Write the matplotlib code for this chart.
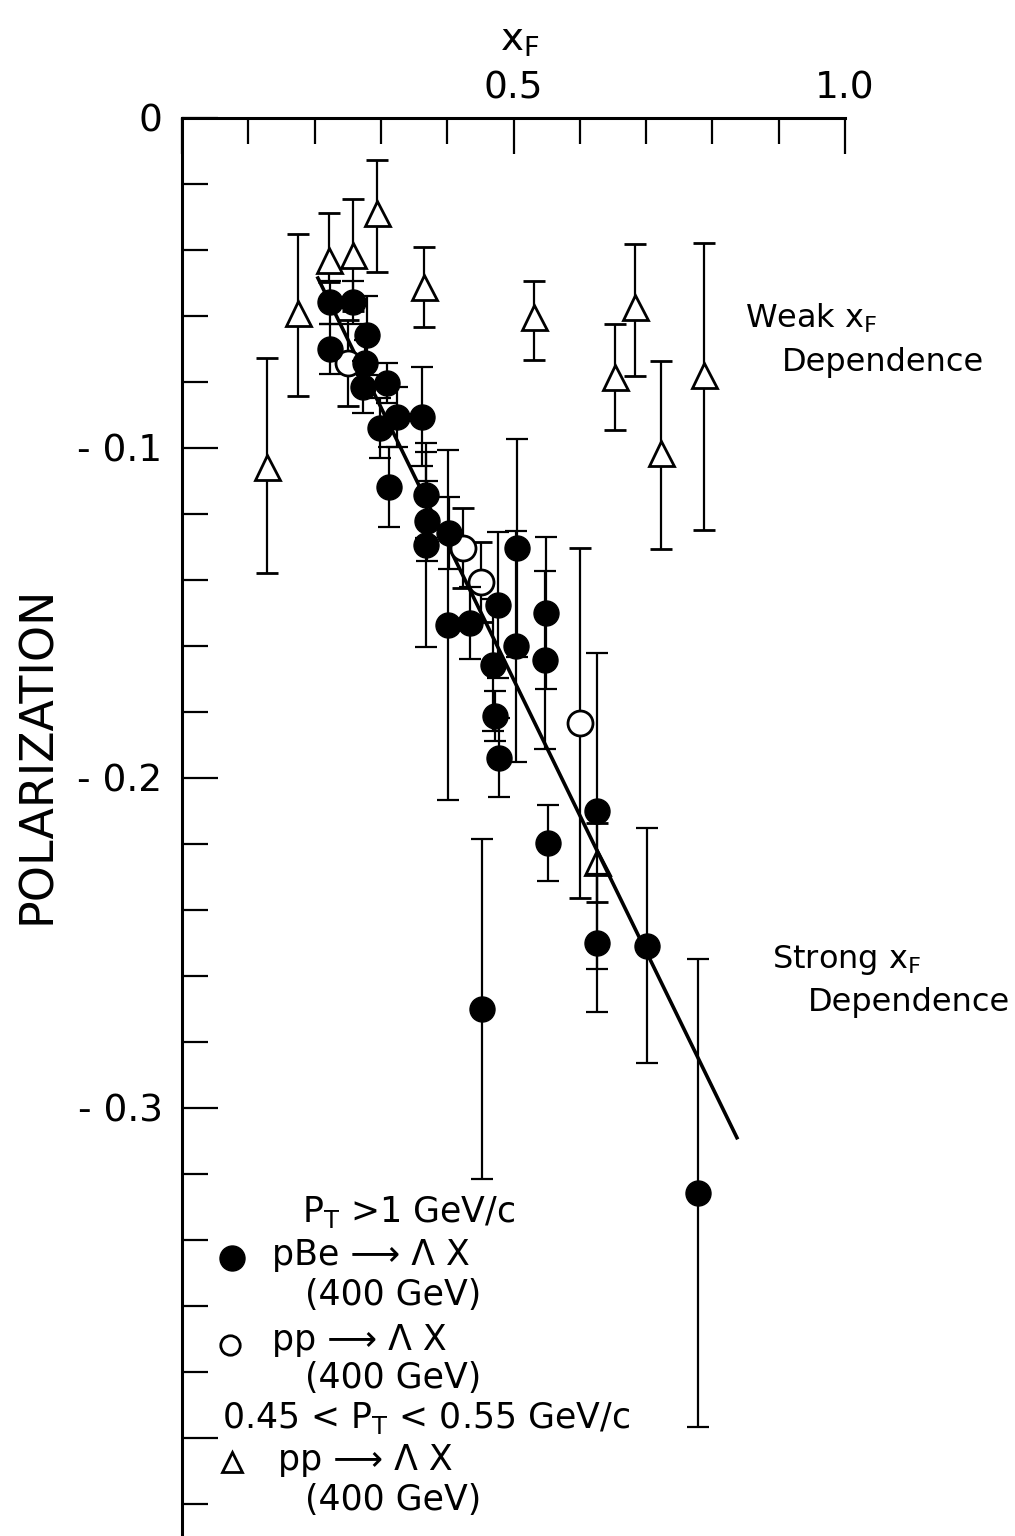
import matplotlib
matplotlib.use("Agg")
import matplotlib.pyplot as plt
import numpy as np

plt.rcParams['font.family'] = ['DejaVu Sans']
plt.rcParams['mathtext.default'] = 'regular'

W, H = 1015, 1536

# pBe -> Lambda X, pT > 1 GeV/c (filled circles)
pbe_x = [0.223, 0.258, 0.279, 0.223, 0.276, 0.273, 0.309, 0.324, 0.299, 0.362,
         0.312, 0.368, 0.370, 0.368, 0.403, 0.401, 0.434, 0.505, 0.477, 0.549,
         0.504, 0.547, 0.469, 0.472, 0.478, 0.552, 0.626, 0.626, 0.452, 0.701, 0.778]
pbe_y = [-0.0558, -0.0558, -0.0658, -0.0700, -0.0742, -0.0815, -0.0803, -0.0906, -0.0939, -0.0906,
         -0.1118, -0.1142, -0.1221, -0.1294, -0.1258, -0.1536, -0.1530, -0.1303, -0.1476, -0.1500,
         -0.1600, -0.1642, -0.1658, -0.1812, -0.1939, -0.2197, -0.2100, -0.2500, -0.2700, -0.2509, -0.3258]
pbe_err = [0.0065, 0.0065, 0.012, 0.0076, 0.007, 0.008, 0.006, 0.009, 0.009, 0.015,
           0.012, 0.013, 0.012, 0.031, 0.011, 0.053, 0.011, 0.033, 0.022, 0.023,
           0.035, 0.027, 0.020, 0.0075, 0.012, 0.0115, 0.048, 0.021, 0.0515, 0.0356, 0.071]

# pp -> Lambda X, pT > 1 GeV/c (open circles)
pp_x = [0.250, 0.424, 0.451, 0.600]
pp_y = [-0.0742, -0.1303, -0.1406, -0.1833]
pp_err = [0.013, 0.012, 0.012, 0.053]

# pp -> Lambda X, 0.45 < pT < 0.55 GeV/c (open triangles)
low_x = [0.128, 0.175, 0.222, 0.258, 0.294, 0.365, 0.531, 0.653, 0.683, 0.723, 0.787, 0.626]
low_y = [-0.1058, -0.0591, -0.0430, -0.0415, -0.0288, -0.0512, -0.0603, -0.0785, -0.0573, -0.1015, -0.0779, -0.2255]
low_err_lo = [0.032, 0.025, 0.0067, 0.017, 0.018, 0.012, 0.013, 0.016, 0.021, 0.029, 0.047, 0.012]
low_err_hi = [0.033, 0.024, 0.0142, 0.017, 0.016, 0.012, 0.011, 0.016, 0.019, 0.028, 0.040, 0.012]

# straight-line fit through the pT > 1 data
fit_x = [0.205, 0.837]
fit_y = [-0.0485, -0.309]

xtick_major = [0.0, 0.5, 1.0]
xtick_labels = ['', '0.5', '1.0']
ytick_major = [0.0, -0.1, -0.2, -0.3, -0.4]
ytick_labels = ['0', '- 0.1', '- 0.2', '- 0.3', '']


def fpos(px, py):
    return px / W, 1 - py / H


fig = plt.figure(figsize=(W / 100, H / 100), dpi=100)
ax = fig.add_axes([182 / W, 0, (845 - 182) / W, (H - 118) / H])
ax.set_xlim(0, 1.0)
ax.set_ylim(-(H - 118) / 3300, 0)

for s in ['right', 'bottom']:
    ax.spines[s].set_visible(False)
for s in ['top', 'left']:
    ax.spines[s].set_linewidth(2.2)

ax.xaxis.tick_top()
ax.set_xticks(xtick_major)
ax.set_xticklabels(xtick_labels)
ax.set_xticks(np.arange(0, 1.01, 0.1), minor=True)
ax.set_yticks(ytick_major)
ax.set_yticklabels(ytick_labels)
ax.set_yticks(np.arange(0, -0.43, -0.02), minor=True)
ax.tick_params(which='major', direction='in', length=26, width=1.6, labelsize=27, pad=14)
ax.tick_params(which='minor', direction='in', length=19, width=1.6)
ax.tick_params(axis='x', which='major', pad=8)

ebkw = dict(ecolor='black', elinewidth=1.6, capsize=8, capthick=1.6, linestyle='none')

ax.errorbar(low_x, low_y, yerr=[low_err_lo, low_err_hi], fmt='^', ms=18,
            mfc='white', mec='black', mew=2, zorder=3, **ebkw)
ax.plot(fit_x, fit_y, color='black', lw=2.6, zorder=4)
ax.errorbar(pp_x, pp_y, yerr=pp_err, fmt='o', ms=18,
            mfc='white', mec='black', mew=2, zorder=5, **ebkw)
ax.errorbar(pbe_x, pbe_y, yerr=pbe_err, fmt='o', ms=18,
            mfc='black', mec='black', zorder=6, **ebkw)

# axis titles
fig.text(*fpos(520, 40), '$x_F$', fontsize=28, ha='center', va='center')
fig.text(*fpos(38, 755), 'POLARIZATION', fontsize=33, rotation=90, ha='center', va='center')

# annotations
fig.text(*fpos(745, 318), 'Weak $x_F$', fontsize=23, ha='left', va='center')
fig.text(*fpos(782, 362), 'Dependence', fontsize=23, ha='left', va='center')
fig.text(*fpos(772, 960), 'Strong $x_F$', fontsize=23, ha='left', va='center')
fig.text(*fpos(808, 1002), 'Dependence', fontsize=23, ha='left', va='center')

# legend
lfs = 25
fig.text(*fpos(302, 1212), '$P_T$ >1 GeV/c', fontsize=lfs, ha='left', va='center')
fig.lines.append(plt.Line2D([232 / W], [1 - 1258 / H], marker='o', ms=18, mfc='black', mec='black',
                            transform=fig.transFigure))
fig.text(*fpos(272, 1255), 'pBe \u27f6 \u039b X', fontsize=lfs, ha='left', va='center')
fig.text(*fpos(305, 1295), '(400 GeV)', fontsize=lfs, ha='left', va='center')
fig.lines.append(plt.Line2D([230 / W], [1 - 1345 / H], marker='o', ms=14, mfc='white', mec='black',
                            mew=2, transform=fig.transFigure))
fig.text(*fpos(272, 1340), 'pp \u27f6 \u039b X', fontsize=lfs, ha='left', va='center')
fig.text(*fpos(305, 1378), '(400 GeV)', fontsize=lfs, ha='left', va='center')
fig.text(*fpos(222, 1418), '0.45 < $P_T$ < 0.55 GeV/c', fontsize=lfs, ha='left', va='center')
fig.lines.append(plt.Line2D([232 / W], [1 - 1462 / H], marker='^', ms=15, mfc='white', mec='black',
                            mew=2, transform=fig.transFigure))
fig.text(*fpos(278, 1460), 'pp \u27f6 \u039b X', fontsize=lfs, ha='left', va='center')
fig.text(*fpos(305, 1500), '(400 GeV)', fontsize=lfs, ha='left', va='center')

fig.savefig('out.png', dpi=100)
